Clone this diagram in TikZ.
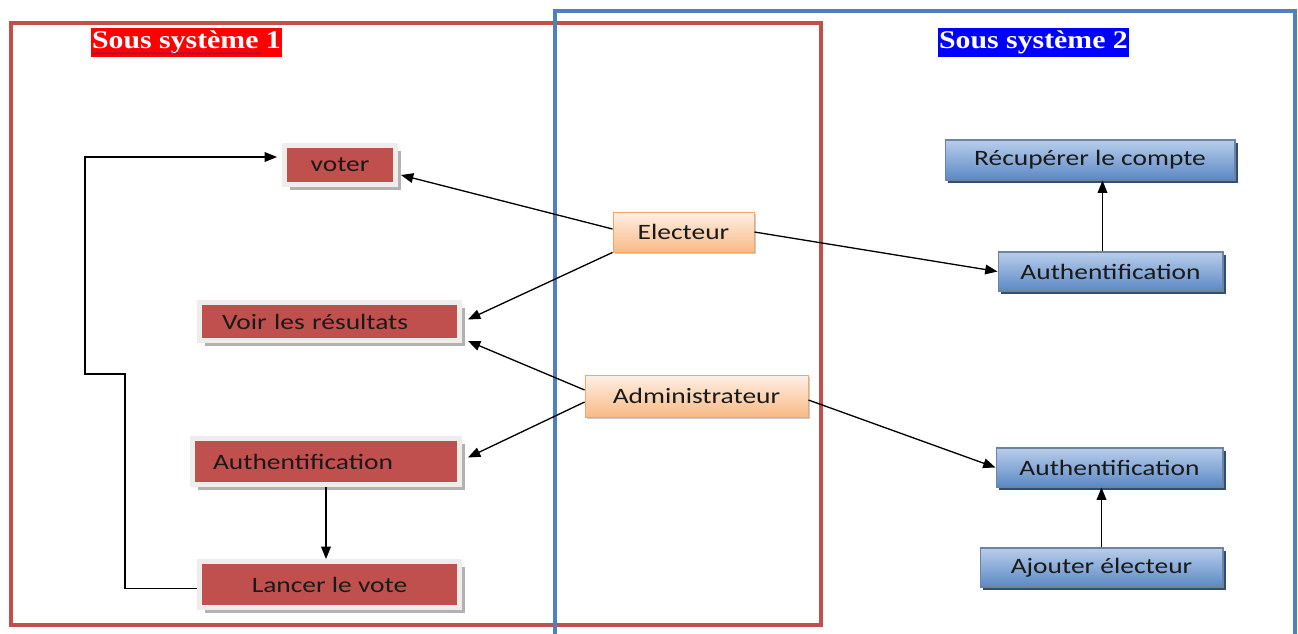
\documentclass[tikz,border=0pt]{standalone}
\usepackage{fontspec}
\setmainfont{Carlito}
\newfontfamily\boxfont[FakeStretch=1.25]{Carlito}
\newfontfamily\headfont[FakeStretch=1.17]{Liberation Serif}
\usetikzlibrary{arrows.meta,shadows,calc,decorations.pathmorphing}

\definecolor{sysred}{HTML}{C0504D}
\definecolor{sysblue}{HTML}{4F81BD}
\definecolor{usecasered}{HTML}{C0504D}
\definecolor{redrim}{HTML}{F0ECEC}
\definecolor{actortop}{HTML}{FEF0E4}
\definecolor{actorbot}{HTML}{F9BA86}
\definecolor{actorrim}{HTML}{F2A66A}
\definecolor{bluetop}{HTML}{B8CEEB}
\definecolor{bluebot}{HTML}{5B88C4}
\definecolor{bluerim}{HTML}{2F4E78}
\definecolor{spellline}{HTML}{4B2A9A}
\definecolor{inktext}{HTML}{1A1A1A}

\begin{document}
\begin{tikzpicture}[x=0.02cm,y=-0.02cm,
  font=\boxfont\fontsize{12.5}{15}\selectfont,
  redcase/.style={fill=usecasered, draw=redrim, line width=0.1cm,
    inner sep=0pt, text=inktext,
    drop shadow={shadow xshift=3pt, shadow yshift=-3pt, fill=gray!60, opacity=1}},
  actor/.style={top color=actortop, bottom color=actorbot, draw=actorrim,
    line width=0.5pt, inner sep=0pt, text=inktext,
    drop shadow={shadow xshift=1.2pt, shadow yshift=-1.2pt, fill=gray!40, opacity=1}},
  bluecase/.style={top color=bluetop, bottom color=bluebot, draw=bluerim!70,
    line width=0.6pt, inner sep=0pt, text=inktext,
    drop shadow={shadow xshift=1.5pt, shadow yshift=-1.5pt, fill=bluerim, opacity=1}},
  headbox/.style={inner sep=0pt, text=white,
    font=\headfont\bfseries\fontsize{14.5}{16}\selectfont,
    minimum width=3.82cm, minimum height=0.58cm},
  arr/.style={draw=black, line width=0.75pt,
    -{Triangle[length=7pt,width=5.5pt]}},
]
\useasboundingbox (0,0) rectangle (1298,633);
\fill[white] (0,0) rectangle (1298,633);

% subsystem frames
\draw[sysred, line width=0.09cm] (11,23) rectangle (821,625);
\draw[sysblue, line width=0.08cm] (555,660) -- (555,11) -- (1295,11) -- (1295,660);

% subsystem headings
\node[headbox, fill=red] (h1) at (186.5,42.5) {Sous système 1};
\draw[spellline, line width=0.5pt, decorate,
  decoration={snake, amplitude=0.35pt, segment length=2.5pt}]
  ($(h1.south west)+(1,-4)$) -- ($(h1.south west)+(171,-4)$);
\node[headbox, fill=blue] (h2) at (1033.5,42.5) {Sous système 2};

% use cases of subsystem 1
\node[redcase, minimum width=2.22cm, minimum height=0.78cm] (voter) at (340,165) {voter};
\node[redcase, minimum height=0.76cm, text width=4.3cm, inner xsep=0.45cm, align=left]
  (voir) at (329.5,321.5) {Voir les résultats};
\node[redcase, minimum height=0.92cm, text width=4.52cm, inner xsep=0.41cm, align=left]
  (authL) at (326,461.5) {Authentification};
\node[redcase, minimum width=5.2cm, minimum height=0.92cm] (lancer) at (329.5,584.5) {Lancer le vote};

% actors
\node[actor, minimum width=2.82cm, minimum height=0.8cm] (el) at (683.5,232) {Electeur};
\node[actor, minimum width=4.46cm, minimum height=0.84cm] (adm) at (696.5,396) {Administrateur};

% use cases of subsystem 2
\node[bluecase, minimum width=5.8cm, minimum height=0.8cm] (recup) at (1090,160) {Récupérer le compte};
\node[bluecase, minimum width=4.5cm, minimum height=0.78cm] (authR1) at (1110.5,271.5) {Authentification};
\node[bluecase, minimum width=4.54cm, minimum height=0.78cm] (authR2) at (1109.5,467.5) {Authentification};
\node[bluecase, minimum width=4.86cm, minimum height=0.78cm] (aj) at (1101.5,567.5) {Ajouter électeur};

% actor links
\draw[arr] ($(el.west)+(0,-3)$) -- ($(voter.east)+(3,10)$);
\draw[arr] (el.south west) -- ($(voir.east)+(6,-2)$);
\draw[arr] ($(adm.west)+(0,-6)$) -- ($(voir.south east)+(6,-2)$);
\draw[arr] ($(adm.west)+(0,6)$) -- ($(authL.east)+(6,-4)$);
\draw[arr] (el.east) -- (authR1.west);
\draw[arr] ($(adm.east)+(0,4)$) -- (authR2.west);

% dependencies between use cases
\draw[arr] ($(authR1.north)+(-8,0)$) coordinate (r1) -- (r1 |- recup.south);
\draw[arr] (aj.north) -- (aj.north |- authR2.south);
\draw[arr] (authL.south) -- (authL.south |- lancer.north);

% loop from "Lancer le vote" back to "voter"
\coordinate (k1) at (125,374);
\coordinate (k2) at (85,157);
\draw[draw=black, line width=0.6pt, -{Triangle[length=7pt,width=5.5pt]}]
  ($(lancer.west)+(0,4)$) -| (k1) -- (k2 |- k1) |- ($(voter.west)+(-5,-8)$);
\end{tikzpicture}
\end{document}
